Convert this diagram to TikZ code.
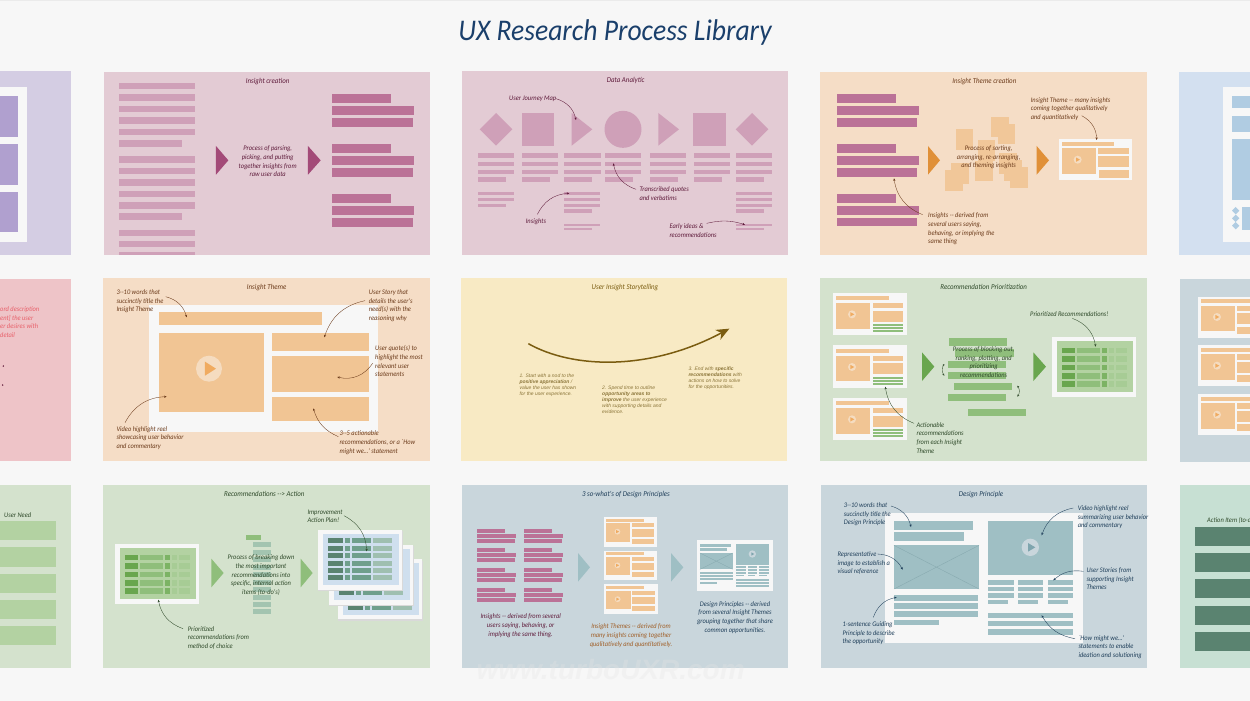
\documentclass[tikz,border=0pt]{standalone}
\usepackage{fontspec}
\usetikzlibrary{arrows.meta}
\newfontfamily\capf[FakeStretch=0.92]{Carlito}
\newfontfamily\sansf{Liberation Sans}
\definecolor{pagebg}{HTML}{F7F7F7}
\definecolor{lav}{HTML}{D4CDE3}\definecolor{lavd}{HTML}{B0A0CF}
\definecolor{rose}{HTML}{E3CBD4}\definecolor{rosel}{HTML}{CFA0B8}\definecolor{rosem}{HTML}{BB7297}\definecolor{rosed}{HTML}{A34A78}
\definecolor{peach}{HTML}{F5DDC6}\definecolor{orl}{HTML}{F1C594}\definecolor{ord}{HTML}{E09038}\definecolor{orplay}{HTML}{F0AB60}\definecolor{orcirc}{HTML}{F5DCC0}
\definecolor{skyp}{HTML}{D3E0F0}\definecolor{skyl}{HTML}{B0CCE2}
\definecolor{pinkp}{HTML}{EEC4C8}\definecolor{pinkt}{HTML}{E8606A}
\definecolor{yel}{HTML}{F8EAC4}\definecolor{yeld}{HTML}{7A5C10}\definecolor{yelt}{HTML}{8A7438}
\definecolor{gre}{HTML}{D4E2CD}\definecolor{grl}{HTML}{B3D2A2}\definecolor{grm}{HTML}{8FBE7B}\definecolor{grd}{HTML}{69A64E}\definecolor{grx}{HTML}{A7CC95}\definecolor{grn}{HTML}{7CB364}
\definecolor{slate}{HTML}{C9D6DC}\definecolor{tea}{HTML}{9FBFC4}\definecolor{tead}{HTML}{88AAB0}\definecolor{teap}{HTML}{7FA5AE}
\definecolor{mint}{HTML}{C7E0D3}\definecolor{pine}{HTML}{5A8370}\definecolor{pinem}{HTML}{6F9F8C}\definecolor{pinel}{HTML}{9FBFB0}\definecolor{colbar}{HTML}{A3C4B0}\definecolor{sheetb}{HTML}{CFDFEE}
\definecolor{tmar}{HTML}{5E1A3A}\definecolor{tbro}{HTML}{6B3A1A}\definecolor{tgre}{HTML}{2F4A2A}\definecolor{tnav}{HTML}{1F3F5A}\definecolor{tora}{HTML}{A05F28}\definecolor{tit}{HTML}{1A3F6B}
\tikzset{
 capt/.style={inner sep=0pt,font=\capf\itshape\fontsize{7}{8.7}\selectfont,text depth=0pt},
 capL/.style={capt,anchor=west,align=left},
 capC/.style={capt,anchor=center,align=center},
 panelhead/.style={capt,anchor=center,font=\capf\itshape\fontsize{7.5}{9}\selectfont},
 story/.style={inner sep=0pt,anchor=west,align=left,text=yelt,font=\sansf\itshape\fontsize{5}{6}\selectfont},
 conn/.style={-{Stealth[length=2.6pt,width=2.2pt]},line width=.35pt},
 zoomA/.style={shift={(#1)},scale=0.33333}
}
% rectangle in current coordinates
\newcommand{\rc}[5]{\fill[#5] (#1,#2) rectangle (#3,#4);}
% right-pointing triangle
\newcommand{\tri}[5]{\fill[#5] (#1,#3-#4) -- (#2,#3) -- (#1,#3+#4) -- cycle;}
% connector with named ends
\newcommand{\cn}[5]{\coordinate (#1s) at (#2); \coordinate (#1e) at (#3); \draw[conn,#5] (#1s) to[#4] (#1e);}
% card, local size about 220x123
\newcommand{\cardbase}{%
  \rc{0}{0}{220}{123}{pagebg}\rc{8}{7}{166}{19}{orl}\rc{8}{27}{110}{103}{orl}
  \fill[orcirc] (56,61) circle (12); \tri{51}{63}{61}{6.5}{orplay}}
\newcommand{\orcard}[2]{\begin{scope}[shift={(#1)},scale=#2]\cardbase
  \rc{117}{27}{210}{43}{orl}\rc{117}{50}{210}{82}{orl}\rc{117}{90}{210}{111}{orl}\end{scope}}
\newcommand{\lncard}[1]{\begin{scope}[shift={(#1)}]\cardbase
  \rc{118}{27}{210}{44}{orl}\rc{118}{51}{210}{83}{orl}\rc{119}{91}{210}{103}{orl}\rc{119}{105}{210}{115}{orl}\end{scope}}
\newcommand{\grcard}[1]{\begin{scope}[shift={(#1)}]\rc{0}{0}{220}{128}{pagebg}\rc{8}{11}{166}{23}{orl}\rc{8}{31}{110}{108}{orl}
  \fill[orcirc] (56,65) circle (12); \tri{51}{63}{65}{6.5}{orplay}
  \rc{118}{31}{210}{47}{orl}\rc{118}{54}{210}{87}{orl}\rc{118}{94}{210}{100}{grm}\rc{118}{103}{210}{110}{grm}\rc{118}{112}{210}{119}{grm}\end{scope}}
% green priority table
\newcommand{\grtable}[1]{\begin{scope}[shift={(#1)}]\rc{0}{0}{252}{180}{pagebg}\rc{15}{13}{244}{167}{grl}
  \foreach \yy in {33,59,84,109,134}{\rc{30}{\yy}{70}{\yy+17}{grd}\rc{76}{\yy}{144}{\yy+17}{grm}\rc{150}{\yy}{166}{\yy+17}{grn}\rc{171}{\yy}{187}{\yy+17}{grx}\rc{192}{\yy}{224}{\yy+17}{grx}}\end{scope}}
% blue action sheet
\newcommand{\sheet}[1]{\begin{scope}[shift={(#1)}]\rc{2}{4}{255}{185}{black!15}\rc{0}{0}{253}{180}{pagebg}\rc{15}{12}{243}{167}{sheetb}
  \foreach \yy in {26,49,71,93,115,136}{\rc{31}{\yy}{76}{\yy+15}{pine}\rc{82}{\yy}{97}{\yy+15}{pinem}\rc{104}{\yy}{160}{\yy+15}{pinem}\rc{167}{\yy}{224}{\yy+15}{pinel}}\end{scope}}
% three purple lines
\newcommand{\threebars}[4]{\rc{#1}{#4}{#1+176}{#4+27}{rosem}\rc{#1}{#4+36}{#1+246}{#4+63}{rosem}\rc{#1}{#4+72}{#1+241}{#4+98}{rosem}}
\newcommand{\smallbars}[4]{\rc{#1}{#4}{#2}{#4+12}{rosem}\rc{#1}{#4+15}{#3}{#4+27}{rosem}\rc{#1}{#4+30}{#3-3}{#4+42}{rosem}}
\begin{document}
\begin{tikzpicture}[x=1pt,y=-1pt]
\useasboundingbox (0,0) rectangle (1250,701);
\fill[pagebg] (0,0) rectangle (1250,701);
\fill[black!8] (0,0) rectangle (1250,1);
\node[inner sep=0pt,text=tit,font=\capf\itshape\fontsize{30}{34}\selectfont] (title) at (615,33) {UX Research Process Library};

% ---- row 1 left lavender
\rc{0}{71.5}{71}{255}{lav}\rc{0}{87}{27}{241.7}{pagebg}
\rc{0}{95.7}{17.5}{137}{lavd}\rc{0}{144}{17.5}{185}{lavd}\rc{0}{192}{17.5}{232}{lavd}

% ---- Insight creation
\begin{scope}[zoomA={0,60}]
\rc{312}{36}{1290}{585}{rose}
\foreach \yy in {68,103,137,172,207,289,323,358,392,427,509,543}{\rc{358}{\yy}{585}{\yy+19}{rosel}}
\rc{358}{241}{546}{260}{rosel}\rc{358}{460}{546}{479}{rosel}\rc{358}{577}{585}{585}{rosel}
\threebars{997}{0}{0}{103}\threebars{997}{0}{0}{253}\threebars{997}{0}{0}{402}
\tri{648}{685}{301}{43}{rosed}\tri{924}{962}{301}{43}{rosed}
\node[panelhead,text=tmar] (h1) at (803,64) {Insight creation};
\node[capC,text=tmar] (t1) at (803,304) {Process of parsing,\\picking, and putting\\together insights from\\raw user data};
\end{scope}

% ---- Data Analytic
\begin{scope}[zoomA={450,60}]
\rc{36}{33}{1014}{585}{rose}
\fill[rosel] (138,159) -- (187,208) -- (138,257) -- (89,208) -- cycle;
\rc{215}{160}{312}{257}{rosel}
\tri{365}{427}{208}{49}{rosel}
\fill[rosel] (519,208) circle (55.5);
\tri{625}{687}{208}{49}{rosel}
\rc{730}{160}{828}{257}{rosel}
\fill[rosel] (906,159) -- (955,208) -- (906,257) -- (857,208) -- cycle;
\foreach \xa/\xb/\xc in {84/192/168,216/324/300,342/452/426,465/574/549,599/708/683,731/840/815,858/967/942}{
  \rc{\xa}{280}{\xb}{293}{rosel}\rc{\xa}{305}{\xb}{318}{rosel}\rc{\xa}{329}{\xb}{342}{rosel}\rc{\xa}{352}{\xc}{365}{rosel}}
\rc{84}{396}{192}{406}{rosel}\rc{84}{414}{192}{424}{rosel}\rc{84}{431}{168}{441}{rosel}
\foreach \xa/\xb/\xc in {342/451/426,858/967/942}{
  \rc{\xa}{396}{\xb}{406}{rosel}\rc{\xa}{414}{\xb}{424}{rosel}\rc{\xa}{431}{\xb}{441}{rosel}\rc{\xa}{447}{\xc}{459}{rosel}
  \rc{\xa}{491}{\xb}{498}{rosel}\rc{\xa}{504}{\xc}{511}{rosel}}
\node[panelhead,text=tmar] (h2) at (527,61) {Data Analytic};
\node[capL,text=tmar] (t2a) at (177,116) {User Journey Map};
\cn{c2a}{318,116}{378,180}{bend left=30}{tmar}
\node[capL,text=tmar] (t2b) at (568,401) {Transcribed quotes\\and verbatims};
\cn{c2b}{558,388}{490,310}{bend left=30}{tmar}
\node[capL,text=tmar] (t2c) at (227,482) {Insights};
\cn{c2c}{262,463}{358,400}{bend left=30}{tmar}
\node[capL,text=tmar] (t2d) at (658,512) {Early ideas \&\\recommendations};
\cn{c2d}{770,490}{885,494}{bend left=15}{tmar}
\end{scope}

% ---- Insight Theme creation
\begin{scope}[zoomA={810,60}]
\rc{31}{36}{1011}{585}{peach}
\threebars{81}{0}{0}{102}\threebars{81}{0}{0}{252}\threebars{81}{0}{0}{401}
\foreach \xa/\ya/\xb/\yb in {437/208/489/270,543/170/596/232,563/192/616/253,504/240/556/302,423/310/476/372,405/331/458/392,495/302/549/363,567/280/620/341,583/301/636/362,601/322/654/384}{\rc{\xa}{\ya}{\xb}{\yb}{orl!90!peach}}
\tri{354}{390}{301}{43}{ord}\tri{680}{717}{301}{43}{ord}
\lncard{747,238}
\node[panelhead,text=tbro] (h3) at (523,62) {Insight Theme creation};
\node[capC,text=tbro] (t3a) at (536,290) {Process of sorting,\\arranging, re-arranging,\\and theming insights};
\node[capL,text=tbro] (t3b) at (662,145) {Insight Theme -- many insights\\coming together qualitatively\\and quantitatively};
\cn{c3b}{815,167}{860,240}{bend left=30}{tbro}
\node[capL,text=tbro] (t3c) at (354,505) {Insights -- derived from\\several users saying,\\behaving, or implying the\\same thing};
\cn{c3c}{338,464}{252,355}{bend left=30}{tbro}
% sky panel
\rc{1107}{35}{1320}{585}{skyp}\rc{1238}{82}{1320}{545}{pagebg}
\rc{1266}{108}{1320}{143}{skyl}\rc{1266}{168}{1320}{216}{skyl}\rc{1266}{236}{1320}{419}{skyl}\rc{1296}{441}{1320}{509}{skyl}
\foreach \yy in {452,475,497}{\fill[skyl] (1277,\yy-11) -- (1288,\yy) -- (1277,\yy+11) -- (1266,\yy) -- cycle;}
\end{scope}

% ---- row 2
\begin{scope}[zoomA={0,270}]
\rc{0}{27}{212}{574}{pinkp}
\node[capL,text=pinkt] (t4) at (0,156) {ord description\\ent] the user\\er desires with\\detail};
\fill[tmar] (10,288) circle (2.5); \fill[tmar] (8,345) circle (2.5);
\rc{310}{25}{1290}{574}{peach}
\rc{447}{104}{1134}{486}{pagebg}
\rc{477}{127}{965}{164}{orl}\rc{477}{190}{792}{427}{orl}
\rc{816}{190}{1106}{242}{orl}\rc{816}{259}{1106}{366}{orl}\rc{816}{382}{1106}{454}{orl}
\fill[orcirc] (627,296) circle (39); \tri{615}{648}{296}{21}{orplay}
\node[panelhead,text=tbro] (h5) at (800,52) {Insight Theme};
\node[capL,text=tbro] (t5a) at (349,92) {3--10 words that\\succinctly title the\\Insight Theme};
\cn{c5a}{497,80}{560,142}{bend left=30}{tbro}
\node[capL,text=tbro] (t5b) at (1106,105) {User Story that\\details the user's\\need(s) with the\\reasoning why};
\cn{c5b}{1095,92}{973,202}{bend right=30}{tbro}
\node[capL,text=tbro] (t5c) at (1125,274) {User quote(s) to\\highlight the most\\relevant user\\statements};
\cn{c5c}{1118,280}{1012,321}{bend left=35}{tbro}
\node[capL,text=tbro] (t5d) at (1018,516) {3--5 actionable\\recommendations, or a `How\\might we\dots' statement};
\cn{c5d}{1015,500}{940,415}{bend left=25}{tbro}
\node[capL,text=tbro] (t5e) at (349,502) {Video highlight reel\\showcasing user behavior\\and commentary};
\cn{c5e}{375,458}{500,380}{bend left=30}{tbro}
\end{scope}

\begin{scope}[zoomA={450,270}]
\rc{34}{25}{1011}{573}{yel}
\node[panelhead,text=yeld] (h6) at (525,52) {User Insight Storytelling};
\coordinate (st) at (235,221); \coordinate (en) at (838,176);
\draw[yeld,line width=1.5pt,-{Stealth[length=13pt,width=11pt,inset=4pt]}] (st) .. controls (370,297) and (600,303) .. (en);
\node[story] (s1) at (208,346) {1. Start with a nod to the\\{\bfseries positive appreciation} /\\value the user has shown\\for the user experience.};
\node[story] (s2) at (456,388) {2. Spend time to outline\\{\bfseries opportunity areas to}\\{\bfseries improve} the user experience\\with supporting details and\\evidence.};
\node[story] (s3) at (715,325) {3. End with {\bfseries specific}\\{\bfseries recommendations} with\\actions on how to solve\\for the opportunities.};
\end{scope}

\begin{scope}[zoomA={810,270}]
\rc{31}{25}{1011}{573}{gre}
\grcard{70,68}\grcard{70,226}\grcard{70,383}
\tri{336}{373}{290}{43}{grd}\tri{670}{708}{290}{43}{grd}
\foreach \xa/\ya in {417/205,436/238,414/272,414/306,432/338,414/371,474/417}{\rc{\xa}{\ya}{\xa+175}{\ya+22}{grm}}
\grtable{726,200}
\node[panelhead,text=tgre] (h7) at (521,52) {Recommendation Prioritization};
\node[capC,text=tgre] (t7a) at (521,276) {Process of blocking out,\\ranking, plotting, and\\prioritizing\\recommendations};
\node[capL,text=tgre] (t7b) at (660,131) {Prioritized Recommendations!};
\cn{c7b}{787,145}{857,230}{bend left=30}{tgre}
\node[capL,text=tgre] (t7c) at (319,503) {Actionable\\recommendations\\from each Insight\\Theme};
\cn{c7c}{312,460}{226,350}{bend left=30}{tgre}
\coordinate (br1s) at (403,282); \coordinate (br1e) at (403,317);
\draw[conn,tgre,{Stealth[length=2.2pt,width=2pt]}-{Stealth[length=2.2pt,width=2pt]}] (br1s) to[bend right=35] (br1e);
\coordinate (br2s) at (622,347); \coordinate (br2e) at (622,380);
\draw[conn,tgre,{Stealth[length=2.2pt,width=2pt]}-{Stealth[length=2.2pt,width=2pt]}] (br2s) to[bend left=35] (br2e);
% slate panel
\rc{1110}{26}{1320}{575}{slate}
\foreach \yy in {80,226,373}{\orcard{1165,\yy}{1}}
\end{scope}

% ---- row 3
\begin{scope}[zoomA={0,478}]
\rc{0}{21}{212}{570}{gre}
\foreach \ya/\yb in {128/186,207/266,287/345,365/423,444/501}{\rc{0}{\ya}{167}{\yb}{grl}}
\node[capL,text=tgre] (t8) at (12,111) {User Need};
\rc{310}{22}{1290}{570}{gre}
\grtable{345,197}
\tri{634}{671}{285}{43}{grm}\tri{902}{938}{285}{43}{grm}
\rc{737}{171}{783}{186}{grm}
\foreach \yy in {192,214.5,237,259.5,282,304.5,327,349.5,372,393.5}{\rc{759}{\yy}{812}{\yy+15}{colbar}}
\sheet{1013,244}\sheet{986,200}\sheet{953,155}
\node[panelhead,text=tgre] (h9) at (793,48) {Recommendations --> Action};
\node[capC,text=tgre] (t9a) at (783,290) {Process of breaking down\\the most important\\recommendations into\\specific, internal action\\items (to-do's)};
\node[capL,text=tgre] (t9b) at (922,115) {Improvement\\Action Plan!};
\cn{c9b}{1032,113}{1100,220}{bend left=30}{tgre}
\node[capL,text=tgre] (t9c) at (563,478) {Prioritized\\recommendations from\\method of choice};
\cn{c9c}{549,452}{475,365}{bend left=30}{tgre}
\end{scope}

\begin{scope}[zoomA={450,478}]
\rc{36}{21}{1015}{570}{slate}
\foreach \yy in {152,211,270,329}{\smallbars{82}{165}{198}{\yy}\smallbars{223}{306}{339}{\yy}}
\orcard{462,117}{.72}\orcard{462,218}{.72}\orcard{462,319}{.73}
\tri{384}{420}{268}{43}{tea}\tri{663}{700}{268}{43}{tea}
\rc{740}{187}{968}{338}{pagebg}
\rc{750}{198}{842}{207}{tea}\rc{750}{210}{832}{218}{tea}
\rc{750}{225}{848}{274}{tea}\draw[tead,line width=.3pt] (750,225) -- (848,274) (750,274) -- (848,225);
\foreach \yy in {283,292,301}{\rc{750}{\yy}{848}{\yy+6}{tea}}\rc{750}{311}{802}{317}{tea}
\rc{859}{198}{957}{260}{tea}\fill[slate] (907,228) circle (11);\tri{904}{913}{228}{5}{teap}
\foreach \xa/\xb/\xc in {859/888/882,893/922/916,927/957/950}{\rc{\xa}{265}{\xb}{271}{tea}\rc{\xa}{274}{\xb}{280}{tea}\rc{\xa}{283}{\xb}{288}{tea}\rc{\xa}{290}{\xc}{294}{tea}}
\foreach \yy in {302,312,321}{\rc{859}{\yy}{957}{\yy+6}{tea}}
\node[panelhead,text=tnav] (h10) at (528,48) {3 so-what's of Design Principles};
\node[capC,text=tmar] (t10a) at (212,441) {Insights -- derived from several\\users saying, behaving, or\\implying the same thing.};
\node[capC,text=tora] (t10b) at (543,471) {Insight Themes -- derived from\\many insights coming together\\qualitatively and quantitatively.};
\node[capC,text=tnav] (t10c) at (855,416) {Design Principles -- derived\\from several Insight Themes\\grouping together that share\\common opportunities.};
\node[inner sep=0pt,opacity=.3,text=white!90!black,font=\sansf\bfseries\itshape\fontsize{28}{29}\selectfont] (wm) at (482,575) {www.turboUXR.com};
\end{scope}

\begin{scope}[zoomA={810,478}]
\rc{32}{21}{1011}{570}{slate}
\rc{225}{105}{818}{496}{pagebg}
\rc{252}{128}{490}{155}{tea}\rc{252}{161}{463}{188}{tea}
\rc{252}{202}{507}{333}{tea}\draw[tead,line width=.4pt] (252,202) -- (507,333) (252,333) -- (507,202);
\rc{252}{351}{505}{368}{tea}\rc{252}{375}{505}{392}{tea}\rc{252}{399}{505}{416}{tea}\rc{252}{425}{387}{442}{tea}
\rc{534}{130}{789}{290}{tea}\fill[slate] (661,208) circle (26);\tri{654}{676}{208}{13}{teap}
\foreach \xa/\xb/\xc in {534/611/595,624/700/685,713/789/774}{\rc{\xa}{307}{\xb}{320}{tea}\rc{\xa}{327}{\xb}{340}{tea}\rc{\xa}{346}{\xb}{359}{tea}\rc{\xa}{365}{\xc}{378}{tea}}
\rc{534}{404}{789}{420}{tea}\rc{534}{429}{789}{445}{tea}\rc{534}{454}{789}{471}{tea}
\node[panelhead,text=tnav] (h11) at (513,47) {Design Principle};
\node[capL,text=tnav] (t11a) at (101,107) {3--10 words that\\succinctly title the\\Design Principle};
\cn{c11a}{243,84}{303,147}{bend left=30}{tnav}
\node[capL,text=tnav] (t11b) at (82,254) {Representative\\image to establish a\\visual reference};
\cn{c11b}{202,228}{278,275}{bend left=30}{tnav}
\node[capL,text=tnav] (t11c) at (97,464) {1-sentence Guiding\\Principle to describe\\the opportunity};
\cn{c11c}{190,418}{260,358}{bend left=30}{tnav}
\node[capL,text=tnav] (t11d) at (803,116) {Video highlight reel\\summarizing user behavior\\and commentary};
\cn{c11d}{790,90}{695,172}{bend right=30}{tnav}
\node[capL,text=tnav] (t11e) at (829,302) {User Stories from\\supporting Insight\\Themes};
\cn{c11e}{820,280}{730,307}{bend right=25}{tnav}
\node[capL,text=tnav] (t11f) at (805,505) {`How might we\dots'\\statements to enable\\ideation and solutioning};
\cn{c11f}{795,482}{695,412}{bend left=25}{tnav}
% mint panel
\rc{1110}{22}{1320}{570}{mint}
\foreach \ya/\yb in {146/203,224/282,304/361,383/441,462/520}{\rc{1155}{\ya}{1320}{\yb}{pine}}
\node[capL,text=tgre] (t12) at (1191,127) {Action Item (to-d};
\end{scope}
\end{tikzpicture}
\end{document}
